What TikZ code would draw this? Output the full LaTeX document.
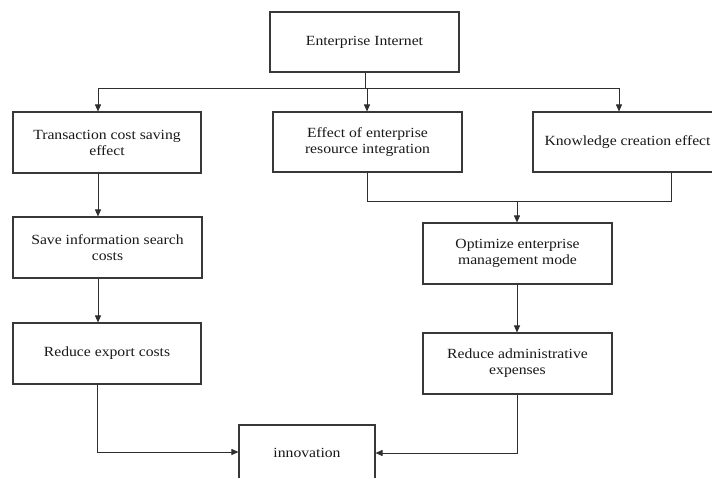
\documentclass[tikz,border=0pt]{standalone}
\usepackage{fontspec}
\setmainfont[FakeStretch=1.12]{Liberation Serif}
\usetikzlibrary{arrows.meta,calc}
\begin{document}
\begin{tikzpicture}[x=1pt,y=-1pt,
  box/.style={draw=black!78, line width=1.1pt, inner sep=0pt, align=center,
    font=\fontsize{14}{16}\selectfont, text=black!90},
  link/.style={draw=black!82, line width=0.9pt},
  arr/.style={link, -{Triangle[length=7pt,width=6pt]}}]
\fill[white] (0,0) rectangle (712,477);
\useasboundingbox (0,0) rectangle (712,477);
\node[box, minimum width=189pt, minimum height=60pt] (top) at (364.5,42) {Enterprise Internet};
\node[box, minimum width=188pt, minimum height=61pt] (b1) at (107,142.5) {Transaction cost saving\\effect};
\node[box, minimum width=189pt, minimum height=60pt] (b2) at (367.5,142) {Effect of enterprise\\resource integration};
\node[box, minimum width=189pt, minimum height=60pt] (b3) at (627.5,142) {Knowledge creation effect};
\node[box, minimum width=189pt, minimum height=61pt] (s1) at (107.5,247.5) {Save information search\\costs};
\node[box, minimum width=188pt, minimum height=61pt] (r1) at (107,353.5) {Reduce export costs};
\node[box, minimum width=189pt, minimum height=61pt] (opt) at (517.5,253.5) {Optimize enterprise\\management mode};
\node[box, minimum width=189pt, minimum height=61pt] (r2) at (517.5,363.5) {Reduce administrative\\expenses};
\node[box, minimum width=136pt, minimum height=56pt] (inn) at (307,453) {innovation};
\coordinate (jt) at (365,88);
\coordinate (jl) at (98,88);
\coordinate (jm) at (367,88);
\coordinate (jr) at (619,88);
\draw[link] (top.south -| jt) -- (jt);
\draw[link] (jl) -- (jr);
\draw[arr] (jl) -- (jl |- b1.north);
\draw[arr] (jm) -- (jm |- b2.north);
\draw[arr] (jr) -- (jr |- b3.north);
\draw[arr] (jl |- b1.south) -- (jl |- s1.north);
\draw[arr] (jl |- s1.south) -- (jl |- r1.north);
\coordinate (ml) at (367,201);
\coordinate (mr) at (671,201);
\coordinate (mo) at (517,201);
\draw[link] (ml |- b2.south) -- (ml) -- (mr) -- (mr |- b3.south);
\draw[arr] (mo) -- (mo |- opt.north);
\draw[arr] (mo |- opt.south) -- (mo |- r2.north);
\coordinate (cl) at (97,452);
\coordinate (cr) at (517,453);
\draw[arr] (cl |- r1.south) -- (cl) -- (cl -| inn.west);
\draw[arr] (cr |- r2.south) -- (cr) -- (cr -| inn.east);
\end{tikzpicture}
\end{document}
